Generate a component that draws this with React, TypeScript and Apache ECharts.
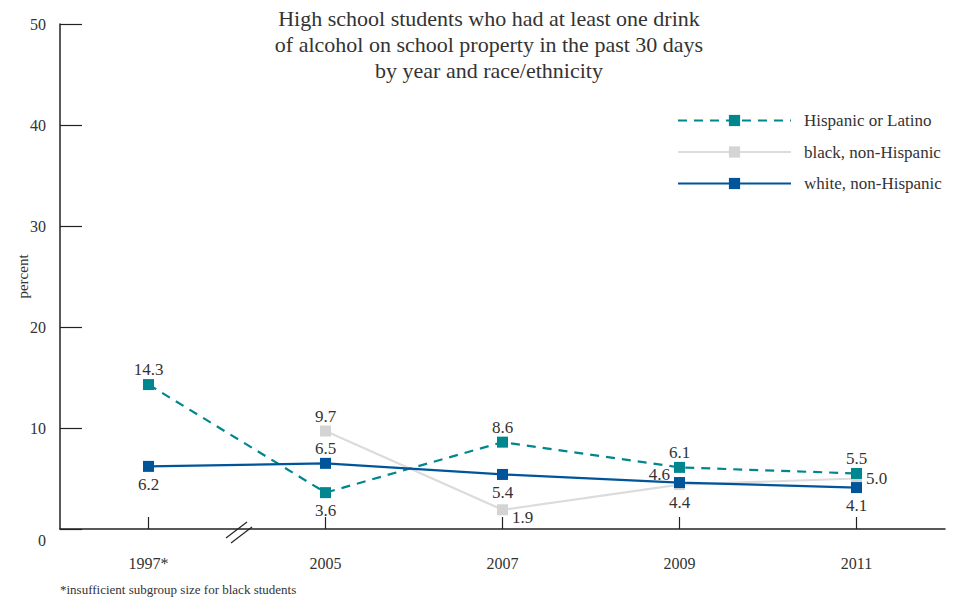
import React, { useEffect, useRef } from "react";
import * as echarts from "echarts";

const categories = ["1997*", "2005", "2007", "2009", "2011"];
const hispanic = [14.3, 3.6, 8.6, 6.1, 5.5];
const black = [null, 9.7, 1.9, 4.4, 5.0];
const white = [6.2, 6.5, 5.4, 4.6, 4.1];
const hispanicPos = ["top", "bottom", "top", "top", "top"];
const blackPos = ["top", "top", "right", "bottom", "right"];
const whitePos = ["bottom", "top", "bottom", "left", "bottom"];
const yTicks = [0, 10, 20, 30, 40, 50];

const FONT = "Liberation Serif, serif";
const TEXT = "#333333";

function mk(values: (number | null)[], pos: string[], fixOffsets: Record<number, number[]> = {}) {
  return values.map((v, i) => ({
    value: v,
    label: {
      position: pos[i],
      distance: pos[i] === "top" ? 1 : 4,
      offset: fixOffsets[i] || [0, 0],
    },
  }));
}

export default function App() {
  const ref = useRef<HTMLDivElement>(null);
  useEffect(() => {
    const chart = echarts.init(ref.current!, null, { renderer: "svg" });
    const labelCommon = {
      show: true,
      fontFamily: FONT,
      fontSize: 17,
      color: TEXT,
      formatter: (p: any) => (p.value == null ? "" : Number(p.value).toFixed(1)),
    };
    chart.setOption({
      animation: false,
      backgroundColor: "#ffffff",
      textStyle: { fontFamily: FONT },
      title: {
        text: "High school students who had at least one drink\nof alcohol on school property in the past 30 days\nby year and race/ethnicity",
        left: 484,
        textAlign: "center",
        top: 0,
        textStyle: { fontFamily: FONT, fontSize: 22, fontWeight: "normal", color: TEXT, lineHeight: 26 },
      },
      legend: {
        orient: "vertical",
        left: 677,
        top: 112,
        padding: 0,
        itemWidth: 113,
        itemHeight: 14,
        itemGap: 14.5,
        textStyle: { fontFamily: FONT, fontSize: 17, color: TEXT, padding: [0, 0, 0, 8] },
        data: ["Hispanic or Latino", "black, non-Hispanic", "white, non-Hispanic"],
      },
      grid: { left: 60, right: 17, top: 24, bottom: 70, outerBoundsMode: "none", containLabel: false },
      xAxis: {
        type: "category",
        data: categories,
        boundaryGap: true,
        axisLine: { show: true, lineStyle: { color: "#222", width: 1.5 } },
        axisTick: { show: true, inside: true, length: 12, alignWithLabel: true, lineStyle: { color: "#222", width: 1.2 } },
        axisLabel: { fontFamily: FONT, fontSize: 16, color: TEXT, margin: 26 },
        splitLine: { show: false },
      },
      yAxis: {
        type: "value",
        min: 0,
        max: 50,
        interval: 10,
        name: "percent",
        nameLocation: "middle",
        nameGap: 30,
        nameMoveOverlap: false,
        nameTextStyle: { fontFamily: FONT, fontSize: 15, color: TEXT },
        axisLine: { show: true, lineStyle: { color: "#222", width: 1.5 } },
        axisTick: { show: true, inside: true, length: 22, lineStyle: { color: "#222", width: 1.2 } },
        axisLabel: {
          fontFamily: FONT,
          fontSize: 16,
          color: TEXT,
          margin: 14,
          formatter: (v: number) => (v === yTicks[0] ? "{z|" + v + "}" : String(v)),
          rich: { z: { fontFamily: FONT, fontSize: 16, color: TEXT, padding: [22, 0, 0, 0] } },
        },
        splitLine: { show: false },
      },
      series: [
        {
          name: "Hispanic or Latino",
          type: "line",
          data: mk(hispanic, hispanicPos),
          symbol: "rect",
          symbolSize: 11,
          color: "#00868f",
          lineStyle: { color: "#00868f", width: 2.2, type: [9, 7] },
          itemStyle: { color: "#00868f" },
          label: labelCommon,
          z: 3,
        },
        {
          name: "black, non-Hispanic",
          type: "line",
          data: mk(black, blackPos, { 2: [0, 8] }),
          symbol: "rect",
          symbolSize: 11,
          color: "#d4d4d4",
          lineStyle: { color: "#dcdcdc", width: 2.2 },
          itemStyle: { color: "#d4d4d4" },
          label: labelCommon,
          z: 2,
        },
        {
          name: "white, non-Hispanic",
          type: "line",
          data: mk(white, whitePos, { 3: [0, -8] }),
          symbol: "rect",
          symbolSize: 11,
          color: "#00559a",
          lineStyle: { color: "#00559a", width: 2.2 },
          itemStyle: { color: "#00559a" },
          label: labelCommon,
          z: 4,
        },
      ],
    });
    const p0 = chart.convertToPixel({ xAxisIndex: 0 }, categories[0]) as number;
    const p1 = chart.convertToPixel({ xAxisIndex: 0 }, categories[1]) as number;
    const y0 = chart.convertToPixel({ yAxisIndex: 0 }, 0) as number;
    const mx = (p0 + p1) / 2;
    chart.setOption({
      graphic: [
        {
          type: "line",
          shape: { x1: mx - 11, y1: y0 + 9, x2: mx + 10, y2: y0 - 7 },
          style: { stroke: "#222", lineWidth: 1.2 },
        },
        {
          type: "line",
          shape: { x1: mx - 6, y1: y0 + 14, x2: mx + 15, y2: y0 - 2 },
          style: { stroke: "#222", lineWidth: 1.2 },
        },
        {
          type: "text",
          left: 60,
          top: 583,
          style: { text: "*insufficient subgroup size for black students", fontFamily: FONT, fontSize: 13, fill: TEXT },
        },
      ],
    });
    return () => chart.dispose();
  }, []);
  return <div ref={ref} style={{ width: 962, height: 599, position: "absolute", left: 0, top: 0 }} />;
}
